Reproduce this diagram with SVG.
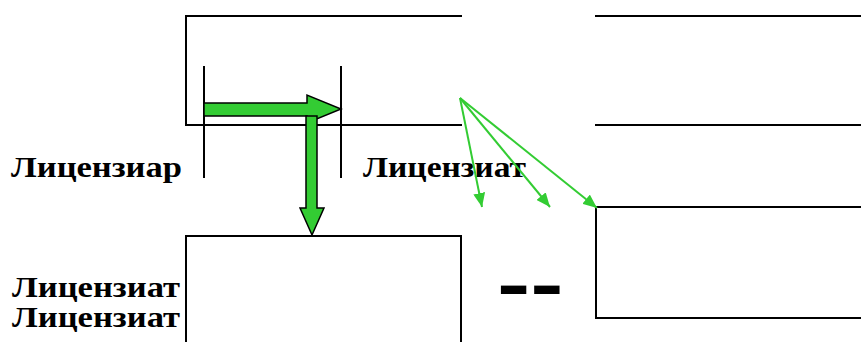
<svg xmlns="http://www.w3.org/2000/svg" width="861" height="342" viewBox="0 0 861 342">
<style>
.ln{stroke:#000;stroke-width:2;fill:none}
.blk{fill:#33cc33;stroke:#000;stroke-width:1.5;stroke-linejoin:miter}
.thin{stroke:#33cc33;stroke-width:2;fill:none}
.lbl{font-family:"Liberation Serif","Times New Roman",serif;font-weight:bold;font-size:30px;fill:#000}
</style>
<defs>
<marker id="ah" markerUnits="userSpaceOnUse" viewBox="0 0 14 12" refX="14" refY="6" markerWidth="14" markerHeight="12" orient="auto">
<path d="M0,0 L14,6 L0,12 Z" fill="#33cc33"/>
</marker>
</defs>
<rect width="861" height="342" fill="#fff"/>
<g id="licensor-box">
<path class="ln" d="M462,16 H186 V125 H462"/>
</g>
<g id="right-top-box">
<path class="ln" d="M595,16 H861 M595,125 H861"/>
</g>
<g id="ticks">
<path class="ln" d="M204,66 V178 M341,66 V178"/>
</g>
<g id="bottom-left-box">
<path class="ln" d="M186,342 V236 H461 V342"/>
</g>
<g id="bottom-right-box">
<path class="ln" d="M861,207 H596 V318 H861"/>
</g>
<g id="labels">
<text class="lbl" x="11" y="177" textLength="171" lengthAdjust="spacingAndGlyphs">Лицензиар</text>
<text class="lbl" x="363" y="177" textLength="163" lengthAdjust="spacingAndGlyphs">Лицензиат</text>
<text class="lbl" x="12" y="297" textLength="168" lengthAdjust="spacingAndGlyphs">Лицензиат</text>
<text class="lbl" x="12" y="327" textLength="168" lengthAdjust="spacingAndGlyphs">Лицензиат</text>
<text transform="translate(497,308) scale(1,0.7)" style="font-family:'Liberation Sans',Arial,sans-serif;font-weight:bold;font-size:100px;fill:#000">--</text>
</g>
<g id="connectors">
<path class="blk" d="M204,103 H307 V95 L341,109 L307,123 V116 H204 Z"/>
<path class="blk" d="M306,116 H317 V208 H324 L312,235 L300,208 H306 Z"/>
<line class="thin" x1="460" y1="98" x2="482" y2="207" marker-end="url(#ah)"/>
<line class="thin" x1="460" y1="98" x2="550" y2="207" marker-end="url(#ah)"/>
<line class="thin" x1="460" y1="98" x2="597" y2="208" marker-end="url(#ah)"/>
</g>
</svg>
